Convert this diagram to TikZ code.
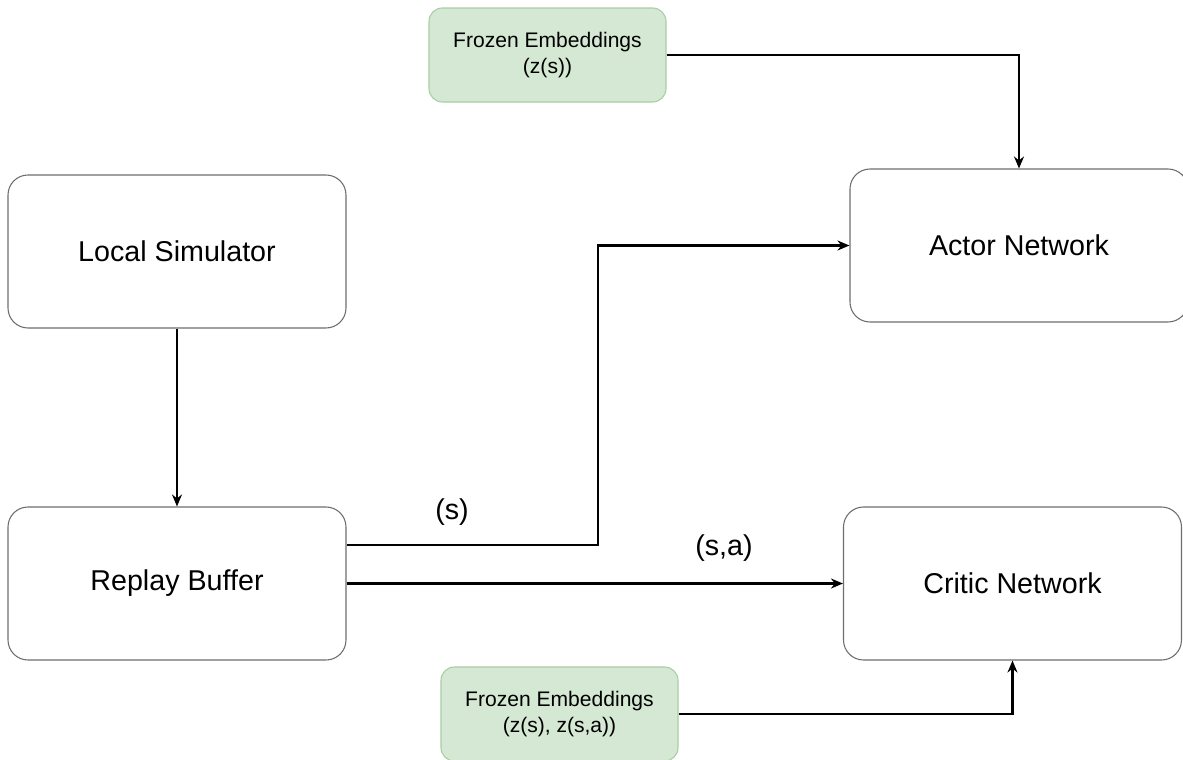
\documentclass[tikz,border=0pt]{standalone}
\usepackage{fontspec}
\setmainfont{Liberation Sans}
\usetikzlibrary{arrows.meta}

\definecolor{boxborder}   {HTML}{6E6E6E}
\definecolor{embedbg}     {HTML}{D5E8D4}
\definecolor{embedborder} {HTML}{A9CDA2}
\definecolor{flowcolor}   {HTML}{000000}

\tikzset{
  blockbox/.style={
    rectangle, rounded corners=15pt,
    fill=white, draw=boxborder, line width=0.8pt,
    minimum width=253.5pt, minimum height=114.75pt,
    font=\fontsize{21.5}{25}\selectfont, align=center
  },
  embedbox/.style={
    rectangle, rounded corners=10pt,
    fill=embedbg, draw=embedborder, line width=0.8pt,
    minimum width=177.75pt, minimum height=70.5pt,
    font=\fontsize{15.8}{19}\selectfont, align=center
  },
  flow/.style={
    draw=flowcolor, line width=1.8pt,
    -{Stealth[length=9pt,width=7.5pt]}
  },
  flowlabel/.style={font=\fontsize{21.5}{25}\selectfont, inner sep=0pt}
}

\begin{document}
\begin{tikzpicture}[x=0.75pt, y=-0.75pt]
\useasboundingbox (0,0) rectangle (1183,760);

%% ── Blocks ───────────────────────────────────────────────────────
\node[blockbox] (simulator) at (177,251.5)  {Local Simulator};
\node[blockbox] (replay)    at (177,583.5)  {Replay Buffer};
\node[blockbox] (actor)     at (1019,245.5) {Actor Network};
\node[blockbox] (critic)    at (1012.5,583.5) {Critic Network};

%% ── Frozen embeddings ────────────────────────────────────────────
\node[embedbox] (embactor)  at (547.5,55)  {Frozen Embeddings\\(z(s))};
\node[embedbox] (embcritic) at (559.5,714) {Frozen Embeddings\\(z(s), z(s,a))};

%% ── Flows ────────────────────────────────────────────────────────
\coordinate (sout)  at ([yshift=28.7pt]replay.east);
\coordinate (sbend) at (598,0);

\draw[flow] (simulator.south) -- (replay.north);
\draw[flow] (sout) -- (sout -| sbend) |- (actor.west);
\draw[flow] (replay.east) -- (critic.west);
\draw[flow] (embactor.east) -| (actor.north);
\draw[flow] (embcritic.east) -| (critic.south);

\node[flowlabel] (slabel)  at (452,512) {(s)};
\node[flowlabel] (salabel) at (724,548) {(s,a)};
\end{tikzpicture}
\end{document}
